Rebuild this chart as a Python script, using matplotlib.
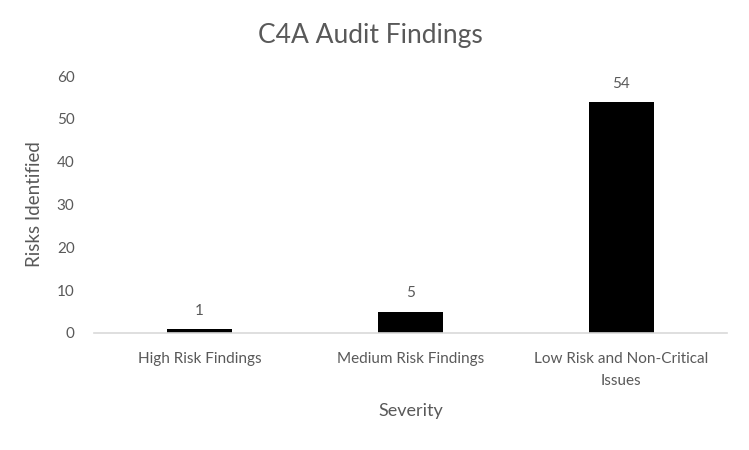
import matplotlib.pyplot as plt

# Chart data
categories = ['High Risk Findings', 'Medium Risk Findings', 'Low Risk and Non-Critical\nIssues']
risks = [1, 5, 54]
y_ticks = [0, 10, 20, 30, 40, 50, 60]

text_color = '#595959'
plt.rcParams['font.family'] = ['Lato', 'DejaVu Sans']

fig = plt.figure(figsize=(7.49, 4.5), dpi=100)
ax = fig.add_axes([0.1255, 0.26, 0.845, 0.571])

x = range(len(categories))
bars = ax.bar(x, risks, width=0.31, color='black')

# value labels above bars
for xi, v in zip(x, risks):
    ax.annotate(str(v), (xi, v), xytext=(0, 8), textcoords='offset points',
                ha='center', va='bottom', fontsize=11, color=text_color)

ax.set_xlim(-0.5, 2.5)
ax.set_ylim(0, 60)
ax.set_yticks(y_ticks)
ax.set_xticks(list(x))
ax.set_xticklabels(categories, fontsize=11, color=text_color, linespacing=1.7)
ax.tick_params(axis='y', labelsize=11, labelcolor=text_color, length=0, pad=14)
ax.tick_params(axis='x', length=0, pad=14)

for side in ['top', 'right', 'left']:
    ax.spines[side].set_visible(False)
ax.spines['bottom'].set_color('#D9D9D9')
ax.spines['bottom'].set_linewidth(1.2)

ax.set_ylabel('Risks Identified', fontsize=13.5, color=text_color, labelpad=10)
ax.set_xlabel('Severity', fontsize=13, color=text_color, labelpad=11)
fig.text(0.494, 0.922, 'C4A Audit Findings', ha='center', va='center',
         fontsize=19, color=text_color)

fig.savefig('out.png', dpi=100)
